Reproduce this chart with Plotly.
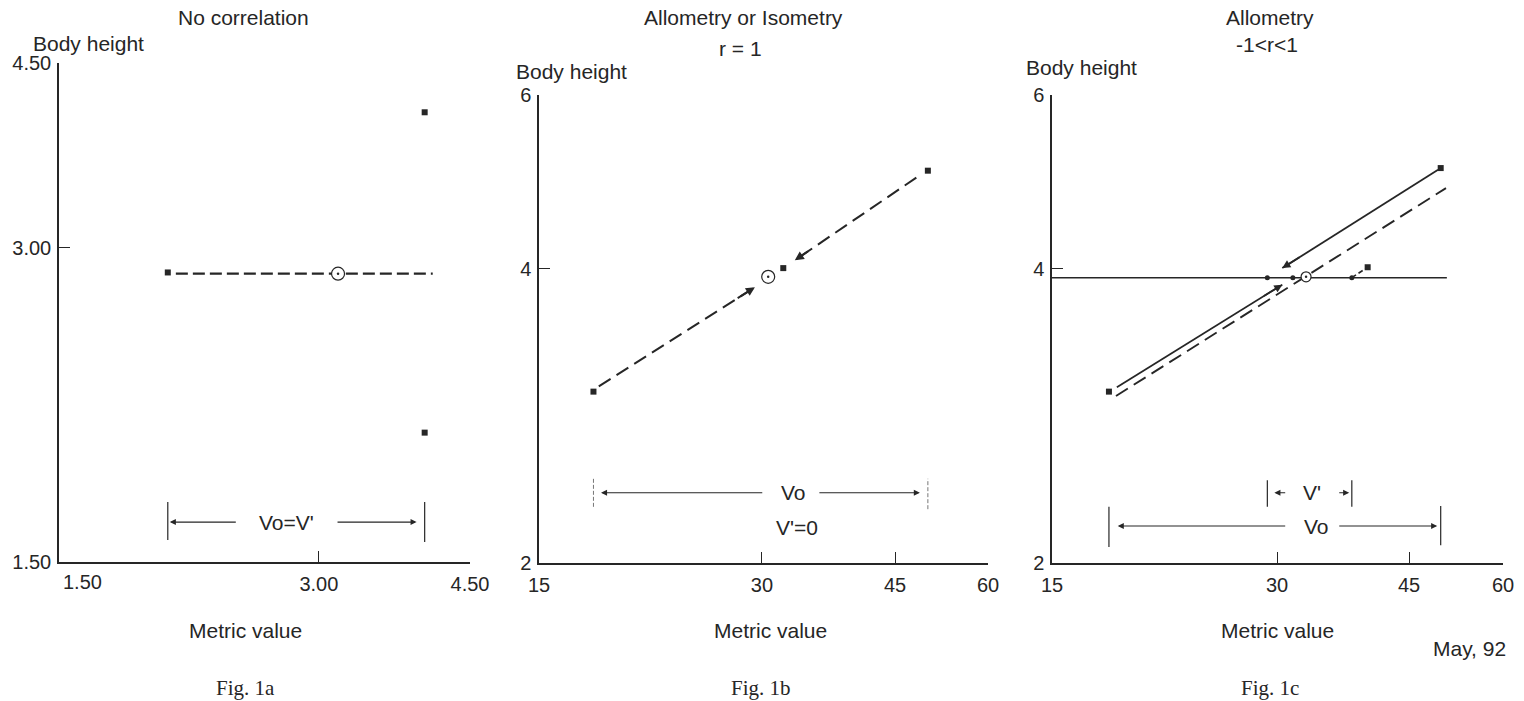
import plotly.graph_objects as go

W, H = 1524, 701
INK = "#262626"
SANS = "Liberation Sans, Arial, Helvetica, sans-serif"
SERIF = "Liberation Serif, Times New Roman, serif"
FS = 21      # titles / labels
TFS = 20     # tick labels

# ---------------- data ----------------
# Fig. 1a - no correlation
a_sq_x = [1.50, 4.05, 4.05]
a_sq_y = [2.80, 4.10, 1.50]
a_mean = [3.19, 2.79]
a_line_x = [1.58, 4.13]
a_line_y = [2.79, 2.79]
a_xrange = [0.42, 4.50]
a_yrange = [0.45, 4.50]
a_xtick_vals = [3.00, 4.50]
a_xtick_text = ["3.00", "4.50"]
a_ytick_vals = [0.45, 3.00, 4.50]
a_ytick_text = ["1.50", "3.00", "4.50"]
a_origin_text = "1.50"
a_arrow_left = [2.19, 1.52]    # tail, tip
a_arrow_right = [3.17, 3.97]   # tail, tip
a_label_x = 2.68

# Fig. 1b - allometry or isometry, r = 1
b_sq_x = [11.0, 32.4, 48.7]
b_sq_y = [2.59, 4.01, 5.13]
b_mean = [30.7, 3.91]
b_low_x = [11.6, 29.2]
b_low_y = [2.65, 3.79]
b_high_x = [47.4, 33.7]
b_high_y = [5.05, 4.10]
b_xrange = [4.86, 55.48]
b_yrange = [0.62, 6.00]
b_xtick_vals = [4.86, 30, 45, 55.48]
b_xtick_text = ["15", "30", "45", "60"]
b_ytick_vals = [0.62, 4, 6]
b_ytick_text = ["2", "4", "6"]
b_arrow_left = [30.2, 11.85]
b_arrow_right = [36.3, 47.8]
b_label_x = 33.5

# Fig. 1c - allometry, -1<r<1
c_sq_x = [10.9, 40.3, 48.6]
c_sq_y = [2.59, 4.02, 5.16]
c_mean = [33.3, 3.91]
c_h_x = [4.43, 49.3]
c_h_y = [3.90, 3.90]
c_dot_x = [28.9, 31.8, 38.5]
c_dot_y = [3.90, 3.90, 3.90]
c_conn_x = [38.5, 40.3]
c_conn_y = [3.90, 4.02]
c_down_x = [48.3, 30.6]
c_down_y = [5.14, 4.01]
c_up_x = [11.8, 30.6]
c_up_y = [2.64, 3.82]
c_dash_x = [11.7, 49.2]
c_dash_y = [2.54, 4.93]
c_xrange = [4.43, 55.68]
c_yrange = [0.62, 6.00]
c_xtick_vals = [4.43, 30, 45, 55.68]
c_xtick_text = ["15", "30", "45", "60"]
c_ytick_vals = [0.62, 4, 6]
c_ytick_text = ["2", "4", "6"]
c_v1_left = [31.1, 29.7]
c_v1_right = [36.9, 38.2]
c_v1_label_x = 34.0
c_vo_left = [31.1, 11.9]
c_vo_right = [36.9, 48.2]
c_vo_label_x = 34.5


def px(x):
    return x / W


def py(y):
    return 1 - y / H


fig = go.Figure()


def line(xs, ys, ax, dash="solid", width=1.5):
    fig.add_trace(go.Scatter(x=xs, y=ys, mode="lines", xaxis="x" + ax, yaxis="y" + ax,
                             line=dict(color=INK, width=width, dash=dash),
                             hoverinfo="skip", showlegend=False))


def squares(xs, ys, ax, size=6):
    fig.add_trace(go.Scatter(x=xs, y=ys, mode="markers", xaxis="x" + ax, yaxis="y" + ax,
                             marker=dict(symbol="square", size=size, color=INK),
                             hoverinfo="skip", showlegend=False))


def mean_mark(pt, ax, size=13):
    fig.add_trace(go.Scatter(x=[pt[0]], y=[pt[1]], mode="markers", xaxis="x" + ax, yaxis="y" + ax,
                             marker=dict(symbol="circle", size=size, color="white",
                                         line=dict(color=INK, width=1.2)),
                             hoverinfo="skip", showlegend=False))
    fig.add_trace(go.Scatter(x=[pt[0]], y=[pt[1]], mode="markers", xaxis="x" + ax, yaxis="y" + ax,
                             marker=dict(symbol="circle", size=2.5, color=INK),
                             hoverinfo="skip", showlegend=False))


annotations = []
shapes = []


def text(x, y, s, size=FS, anchor="center", font=SANS):
    annotations.append(dict(x=px(x), y=py(y), xref="paper", yref="paper", text=s,
                            showarrow=False, xanchor=anchor, yanchor="middle",
                            font=dict(family=font, size=size, color=INK)))


def harrow(ax, tail, tip, yfrac, width=1.1):
    annotations.append(dict(x=tip, y=yfrac, xref="x" + ax, yref="y" + ax + " domain",
                            ax=tail, ay=0, axref="x" + ax, ayref="pixel", text="",
                            showarrow=True, arrowhead=2, arrowsize=1.1, arrowwidth=width,
                            arrowcolor=INK))


def darrow(ax, xs, ys, width=1.6, size=1.0):
    x0, x1 = xs
    y0, y1 = ys
    annotations.append(dict(x=x1, y=y1, xref="x" + ax, yref="y" + ax,
                            ax=x1 - (x1 - x0) * 0.12, ay=y1 - (y1 - y0) * 0.12,
                            axref="x" + ax, ayref="y" + ax, text="",
                            showarrow=True, arrowhead=2, arrowsize=size, arrowwidth=width,
                            arrowcolor=INK))


def vbar(ax, x, y0, y1, color=INK, width=1.2, dash="solid"):
    shapes.append(dict(type="line", xref="x" + ax, yref="y" + ax + " domain",
                       x0=x, x1=x, y0=y0, y1=y1,
                       line=dict(color=color, width=width, dash=dash)))


def vlabel(ax, x, yfrac, s):
    annotations.append(dict(x=x, y=yfrac, xref="x" + ax, yref="y" + ax + " domain",
                            text=s, showarrow=False, xanchor="center", yanchor="middle",
                            font=dict(family=SANS, size=FS, color=INK)))


# ---- Fig 1a ----
line(a_line_x, a_line_y, "", dash="12px,5px", width=2.2)
squares(a_sq_x, a_sq_y, "")
mean_mark(a_mean, "")
vbar("", min(a_sq_x), 0.044, 0.120)
vbar("", max(a_sq_x), 0.040, 0.120)
harrow("", a_arrow_left[0], a_arrow_left[1], 0.080)
harrow("", a_arrow_right[0], a_arrow_right[1], 0.080)
vlabel("", a_label_x, 0.080, "Vo=V'")

# ---- Fig 1b ----
line(b_low_x, b_low_y, "2", dash="14px,7px", width=2.0)
line(b_high_x, b_high_y, "2", dash="14px,7px", width=2.0)
darrow("2", b_low_x, b_low_y, width=2.0, size=0.9)
darrow("2", b_high_x, b_high_y, width=2.0, size=0.9)
squares(b_sq_x, b_sq_y, "2")
mean_mark(b_mean, "2")
vbar("2", min(b_sq_x), 0.120, 0.182, color="#777", width=1.0, dash="4px,2px")
vbar("2", max(b_sq_x), 0.115, 0.180, color="#777", width=1.0, dash="4px,2px")
harrow("2", b_arrow_left[0], b_arrow_left[1], 0.150)
harrow("2", b_arrow_right[0], b_arrow_right[1], 0.150)
vlabel("2", b_label_x, 0.150, "Vo")
vlabel("2", b_label_x + 0.4, 0.075, "V'=0")

# ---- Fig 1c ----
line(c_h_x, c_h_y, "3", width=1.4)
line(c_dash_x, c_dash_y, "3", dash="14px,7px", width=1.9)
line(c_down_x, c_down_y, "3", width=1.8)
line(c_up_x, c_up_y, "3", width=1.8)
line(c_conn_x, c_conn_y, "3", dash="5px,3px", width=1.6)
darrow("3", c_down_x, c_down_y, width=1.8, size=0.9)
darrow("3", c_up_x, c_up_y, width=1.8, size=0.9)
fig.add_trace(go.Scatter(x=c_dot_x, y=c_dot_y, mode="markers", xaxis="x3", yaxis="y3",
                         marker=dict(symbol="circle", size=5, color=INK),
                         hoverinfo="skip", showlegend=False))
squares(c_sq_x, c_sq_y, "3")
mean_mark(c_mean, "3", size=10)
vbar("3", min(c_dot_x), 0.120, 0.177)
vbar("3", max(c_dot_x), 0.120, 0.177)
harrow("3", c_v1_left[0], c_v1_left[1], 0.150)
harrow("3", c_v1_right[0], c_v1_right[1], 0.150)
vlabel("3", c_v1_label_x, 0.150, "V'")
vbar("3", min(c_sq_x), 0.034, 0.120)
vbar("3", max(c_sq_x), 0.038, 0.122)
harrow("3", c_vo_left[0], c_vo_left[1], 0.079)
harrow("3", c_vo_right[0], c_vo_right[1], 0.079)
vlabel("3", c_vo_label_x, 0.079, "Vo")

# ---- text ----
text(243, 18, "No correlation")
text(743, 17, "Allometry or Isometry")
text(740, 48, "r = 1")
text(1270, 18, "Allometry")
text(1267, 45, "-1<r<1")
text(31, 43, "Body height", anchor="left")
text(514, 72, "Body height", anchor="left")
text(1024, 68, "Body height", anchor="left")
text(61, 582, a_origin_text, size=TFS, anchor="left")
text(245, 630, "Metric value")
text(770, 630, "Metric value")
text(1277, 630, "Metric value")
text(1508, 648, "May, 92", anchor="right")
text(245, 688, "Fig. 1a", font=SERIF, size=21)
text(761, 688, "Fig. 1b", font=SERIF, size=21)
text(1270, 688, "Fig. 1c", font=SERIF, size=21)


def axis(dom, rng, vals, txt, anchor, is_x):
    d = dict(domain=dom, range=rng, tickmode="array", tickvals=vals, ticktext=txt,
             showline=True, linecolor=INK, linewidth=1.5, ticks="inside", ticklen=11,
             tickwidth=1.3, tickcolor=INK, showgrid=False, zeroline=False,
             tickfont=dict(family=SANS, size=TFS, color=INK), anchor=anchor,
             fixedrange=True, automargin=False)
    d["ticklabelstandoff"] = 3 if is_x else 2
    return d


ya_dom = [py(562), py(63)]
yb_dom = [py(563), py(95)]

fig.update_layout(
    template="none",
    width=W, height=H, autosize=False, margin=dict(l=0, r=0, t=0, b=0, pad=0),
    paper_bgcolor="white", plot_bgcolor="white", showlegend=False,
    xaxis=axis([px(59), px(470)], a_xrange, a_xtick_vals, a_xtick_text, "y", True),
    yaxis=axis(ya_dom, a_yrange, a_ytick_vals, a_ytick_text, "x", False),
    xaxis2=axis([px(539), px(988)], b_xrange, b_xtick_vals, b_xtick_text, "y2", True),
    yaxis2=axis(yb_dom, b_yrange, b_ytick_vals, b_ytick_text, "x2", False),
    xaxis3=axis([px(1052), px(1503)], c_xrange, c_xtick_vals, c_xtick_text, "y3", True),
    yaxis3=axis(yb_dom, c_yrange, c_ytick_vals, c_ytick_text, "x3", False),
    annotations=annotations, shapes=shapes,
)

fig.write_html("out.html", config={"displayModeBar": False},
               post_script="document.body.style.margin='0';")
